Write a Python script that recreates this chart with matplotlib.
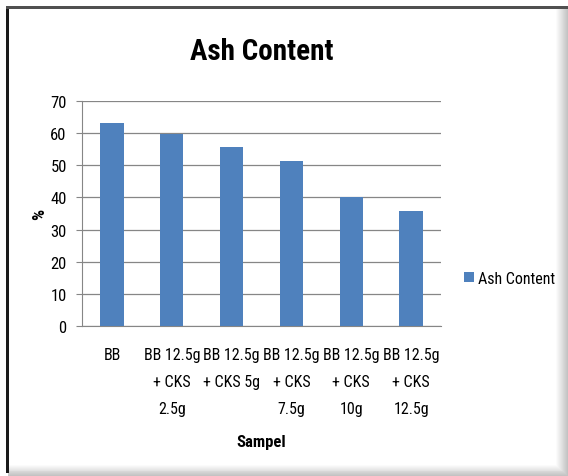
import matplotlib
matplotlib.use('Agg')
import matplotlib.pyplot as plt
from matplotlib.patches import Rectangle
from matplotlib import font_manager

# want a narrow face like Calibri, take whatever narrow one is installed
names = set(f.name for f in font_manager.fontManager.ttflist)
narrow = [f.name for f in font_manager.fontManager.ttflist
          if ('Narrow' in f.name or 'Condensed' in f.name)]
fam = None
for c in ['Liberation Sans Narrow', 'Roboto Condensed', 'Open Sans Condensed', 'DejaVu Sans Condensed']:
    if c in names:
        fam = c
        break
if fam is None and narrow:
    fam = sorted(narrow)[0]
if fam is None:
    fam = 'Liberation Sans' if 'Liberation Sans' in names else 'DejaVu Sans'
plt.rcParams['font.family'] = [fam, 'DejaVu Sans']
narrow_ok = fam not in ('Liberation Sans', 'DejaVu Sans')
fs = 11.5 if narrow_ok else 9.5

samples = ['BB', 'BB 12.5g\n+ CKS\n2.5g', 'BB 12.5g\n+ CKS 5g', 'BB 12.5g\n+ CKS\n7.5g',
           'BB 12.5g\n+ CKS\n10g', 'BB 12.5g\n+ CKS\n12.5g']
ash = [63.1, 59.6, 55.6, 51.4, 40.1, 35.8]
yticks = [0, 10, 20, 30, 40, 50, 60, 70]

W, H = 568, 477
fig = plt.figure(figsize=(W / 100, H / 100), dpi=100)

# background frame with shadow (excel export look)
bg = fig.add_axes([0, 0, 1, 1], zorder=-5)
bg.set_xlim(0, W)
bg.set_ylim(H, 0)
bg.axis('off')
for i in range(12):
    g = 0.985 - i * 0.02
    bg.add_patch(Rectangle((8, 8), 549 + i, 459 + i * 0.9, facecolor=(g, g, g), edgecolor='none', zorder=-i))
bg.add_patch(Rectangle((9, 10), 547, 456, facecolor='white', edgecolor='none', zorder=1))
bg.add_patch(Rectangle((6, 7), 2.5, 467, facecolor='#1a1a1a', edgecolor='none', zorder=2))
bg.add_patch(Rectangle((6, 7), W - 6, 2.5, facecolor='#505050', edgecolor='none', zorder=2))

ax = fig.add_axes([82 / W, (H - 327) / H, (441 - 82) / W, (327 - 102) / H])
x = list(range(len(samples)))
ax.bar(x, ash, width=0.39, color='#4f81bd', label='Ash Content', zorder=3)
ax.set_xlim(-0.5, len(samples) - 0.5)
ax.set_ylim(0, 70)
ax.set_yticks(yticks)
ax.set_xticks(x)
ax.set_xticklabels(samples, fontsize=fs, linespacing=2.0, va='top')
ax.tick_params(axis='x', length=0, pad=15)
ax.tick_params(axis='y', length=4, color='#868686', labelsize=12, pad=7)
ax.grid(axis='y', color='#868686', linewidth=0.9, zorder=0)
for s in ['top', 'right']:
    ax.spines[s].set_visible(False)
ax.spines['left'].set_color('#868686')
ax.spines['bottom'].set_color('#868686')

fig.text(0.5 * (82 + 441) / W, 1 - 52 / H, 'Ash Content', fontsize=21 if narrow_ok else 18,
         fontweight='bold', ha='center', va='center')
fig.text(0.5 * (82 + 441) / W, 1 - 442 / H, 'Sampel', fontsize=12 if narrow_ok else 10.5,
         fontweight='bold', ha='center', va='center')
fig.text(40 / W, 1 - 214 / H, '%', fontsize=12.5, fontweight='bold', rotation=90,
         ha='center', va='center')

ax.legend(loc='center left', bbox_to_anchor=(464 / W, 1 - 279 / H), bbox_transform=fig.transFigure,
          frameon=False, fontsize=fs, handlelength=0.6, handleheight=0.6, handletextpad=0.3,
          borderaxespad=0, borderpad=0)

fig.savefig('out.png', dpi=100)
